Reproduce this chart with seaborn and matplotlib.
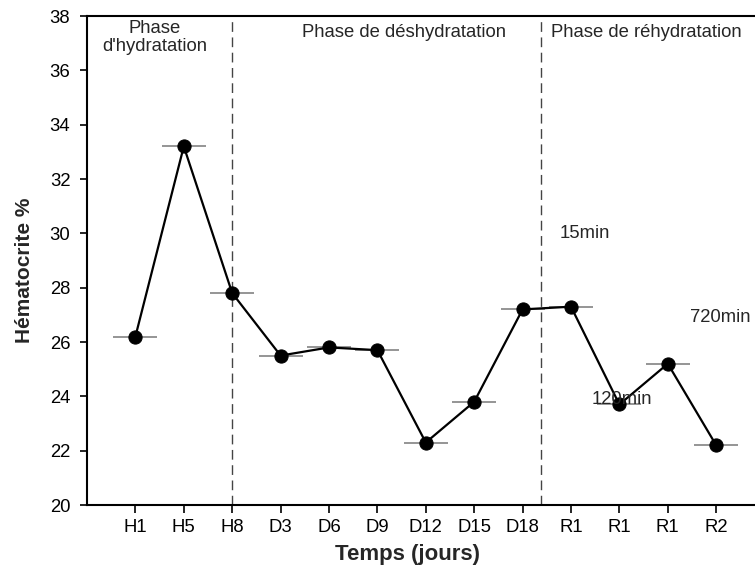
import matplotlib
matplotlib.use("Agg")
import matplotlib.pyplot as plt
import seaborn as sns
import pandas as pd
import numpy as np

# Sampling times and mean hematocrit values
times = ["H1", "H5", "H8", "D3", "D6", "D9", "D12", "D15", "D18", "R1", "R1", "R1", "R2"]
hematocrit = [26.2, 33.2, 27.8, 25.5, 25.8, 25.7, 22.3, 23.8, 27.2, 27.3, 23.7, 25.2, 22.2]
y_ticks = [20, 22, 24, 26, 28, 30, 32, 34, 36, 38]

# Phase boundaries (in x positions) and phase titles
phase_bounds = [3.0, 9.37]
phase_titles = ["Phase\nd'hydratation", "Phase de déshydratation", "Phase de réhydratation"]
phase_title_xy = [(1.405, 37.85), (6.55, 37.7), (11.56, 37.7)]

# Rehydration timing labels
time_notes = ["15min", "120min", "720min"]
time_note_xy = [(9.76, 30.0), (10.43, 23.9), (12.46, 26.9)]

sns.set_theme(style="ticks")
plt.rcParams["font.family"] = ["Liberation Sans", "DejaVu Sans"]

df = pd.DataFrame({"pos": np.arange(1, len(times) + 1), "hct": hematocrit})

fig = plt.figure(figsize=(7.55, 5.69), dpi=100)
W, H = 755, 569
unit = 48.4
ax_w = 14 * unit
ax = fig.add_axes([87 / W, (H - 505) / H, ax_w / W, (505 - 16) / H])

# gray horizontal caps at each mean
ax.plot(df["pos"], df["hct"], linestyle="none", marker="_", markersize=31,
        markeredgewidth=1.3, color="#8c8c8c", zorder=2)

sns.lineplot(data=df, x="pos", y="hct", ax=ax, color="black", linewidth=1.6,
             marker="o", markersize=9.5, markeredgecolor="black",
             markerfacecolor="black", zorder=3)

for b in phase_bounds:
    ax.axvline(b, color="#444444", linewidth=1.0, dashes=(7, 4), zorder=1)

for t, (x, y) in zip(phase_titles, phase_title_xy):
    ax.text(x, y, t, ha="center", va="top", fontsize=13.3, linespacing=1.05)

for t, (x, y) in zip(time_notes, time_note_xy):
    ax.text(x, y, t, ha="left", va="center", fontsize=13.3)

ax.set_xlim(0, 14)
ax.set_ylim(20, 38)
ax.set_yticks(y_ticks)
ax.set_xticks(df["pos"])
ax.set_xticklabels(times)
ax.tick_params(axis="both", direction="out", width=1.2, labelsize=13.3,
               colors="black")
ax.tick_params(axis="y", length=5, pad=7)
ax.tick_params(axis="x", length=6, pad=4)

for side in ["left", "bottom", "top", "right"]:
    ax.spines[side].set_visible(True)
    ax.spines[side].set_linewidth(1.5)
    ax.spines[side].set_color("black")

ax.set_xlabel("Temps (jours)", fontsize=16, fontweight="bold", va="top")
ax.xaxis.set_label_coords((407.5 - 87) / ax_w, (505 - 544) / 489)
ax.set_ylabel("Hématocrite %", fontsize=15, fontweight="bold")
ax.yaxis.set_label_coords((34 - 87) / ax_w, (505 - 270) / 489)

fig.savefig("out.png", dpi=100, facecolor="white")
